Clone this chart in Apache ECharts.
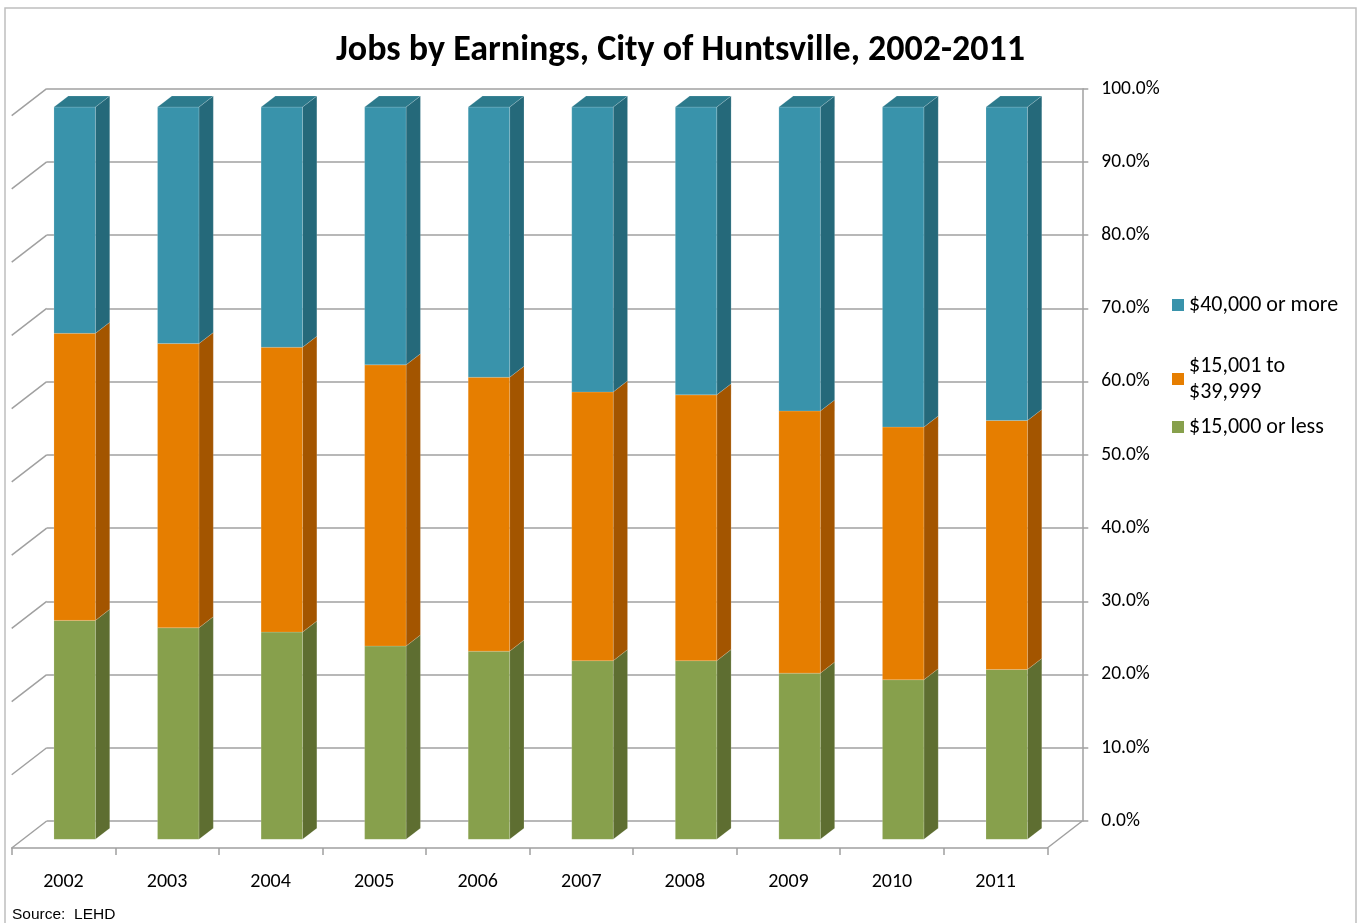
<!DOCTYPE html>
<html>
<head>
<meta charset="utf-8">
<script src="https://cdn.jsdelivr.net/npm/echarts@6/dist/echarts.min.js"></script>
<style>
html,body{margin:0;padding:0;background:#fff;}
#chart{width:1361px;height:923px;}
</style>
</head>
<body>
<div id="chart"></div>
<script>
// ---- data ----
const years = ['2002','2003','2004','2005','2006','2007','2008','2009','2010','2011'];
const lowEarn  = [29.9, 28.9, 28.3, 26.4, 25.7, 24.4, 24.4, 22.7, 21.8, 23.2];   // $15,000 or less
const midEarn  = [39.2, 38.8, 38.9, 38.4, 37.4, 36.7, 36.3, 35.8, 34.5, 34.0];   // $15,001 to $39,999
const highEarn = [30.9, 32.3, 32.8, 35.2, 36.9, 38.9, 39.3, 41.5, 43.7, 42.8];   // $40,000 or more
const yTicks = [0, 10, 20, 30, 40, 50, 60, 70, 80, 90, 100];
const seriesNames = ['$15,000 or less', '$15,001 to $39,999', '$40,000 or more'];

// ---- styling / geometry ----
const FONT = 'Carlito, Lato, sans-serif';
const DEPTH_X = 35, DEPTH_Y = 27;       // wall depth (oblique projection)
const FRONT = 0.68, BACK = 0.27;        // bar front/back planes as fraction of depth from back wall
const BAR_RATIO = 0.40;
const palettes = [
  {front: '#87A04C', side: '#5E6E31', top: '#6F8A3C'},
  {front: '#E67E00', side: '#A35500', top: '#C06A00'},
  {front: '#3993AB', side: '#25697A', top: '#2C7A8C'}
];
const GRID_COLOR = '#A0A0A0';

const valueSets = [lowEarn, midEarn, highEarn];
const totals = years.map((_, i) => lowEarn[i] + midEarn[i] + highEarn[i]);

function buildData(k) {
  return years.map((_, i) => {
    let base = 0;
    for (let j = 0; j < k; j++) base += valueSets[j][i] / totals[i] * 100;
    const top = base + valueSets[k][i] / totals[i] * 100;
    return [i, base, top, k === valueSets.length - 1 ? 1 : 0];
  });
}

function barRenderer(pal) {
  return function (params, api) {
    const i = api.value(0), b = api.value(1), t = api.value(2), isTop = api.value(3);
    const pb = api.coord([i, b]), pt = api.coord([i, t]);
    const w = api.size([1, 0])[0] * BAR_RATIO;
    const fx = -DEPTH_X * FRONT, fy = DEPTH_Y * FRONT;
    const dX = DEPTH_X * (FRONT - BACK), dY = -DEPTH_Y * (FRONT - BACK);
    const xl = pb[0] - w / 2 + fx, xr = pb[0] + w / 2 + fx;
    const yb = pb[1] + fy, yt = pt[1] + fy;
    const edge = {stroke: 'rgba(255,255,255,0.25)', lineWidth: 0.6};
    const children = [
      {type: 'polygon', shape: {points: [[xr, yt], [xr + dX, yt + dY], [xr + dX, yb + dY], [xr, yb]]},
       style: Object.assign({fill: pal.side}, edge)},
      {type: 'rect', shape: {x: xl, y: yt, width: w, height: yb - yt},
       style: Object.assign({fill: pal.front}, edge)}
    ];
    if (isTop) {
      children.push({type: 'polygon', shape: {points: [[xl, yt], [xl + dX, yt + dY], [xr + dX, yt + dY], [xr, yt]]},
        style: Object.assign({fill: pal.top}, edge)});
    }
    return {type: 'group', children: children};
  };
}

const chart = echarts.init(document.getElementById('chart'), null, {renderer: 'canvas'});

const barSeries = [0, 1, 2].map(k => ({
  type: 'custom',
  name: seriesNames[k],
  xAxisIndex: 0, yAxisIndex: 0,
  itemStyle: {color: palettes[k].front},
  renderItem: barRenderer(palettes[k]),
  encode: {x: 0, y: [1, 2]},
  data: buildData(k),
  z: 3
}));

const legendText = {fontFamily: FONT, fontSize: 22, color: '#000', lineHeight: 26};

const option = {
  animation: false,
  textStyle: {fontFamily: FONT},
  title: [
    {text: 'Jobs by Earnings, City of Huntsville, 2002-2011', left: 'center', top: 28,
     textStyle: {fontFamily: FONT, fontWeight: 'bold', fontSize: 36, color: '#000'}},
    {text: 'Source:  LEHD', left: 7, top: 902,
     textStyle: {fontFamily: 'Liberation Sans, Arial, sans-serif', fontWeight: 'normal', fontSize: 15.5, color: '#000'}}
  ],
  legend: [
    {data: [seriesNames[2]], orient: 'vertical', left: 1172, top: 292, padding: 0, icon: 'rect',
     itemWidth: 12, itemHeight: 12, textStyle: legendText},
    {data: [seriesNames[1]], orient: 'vertical', left: 1172, top: 353, padding: 0, icon: 'rect',
     itemWidth: 12, itemHeight: 12,
     formatter: n => n.replace(' $', '\n$'), textStyle: legendText},
    {data: [seriesNames[0]], orient: 'vertical', left: 1172, top: 414, padding: 0, icon: 'rect',
     itemWidth: 12, itemHeight: 12, textStyle: legendText}
  ],
  graphic: [
    {type: 'rect', shape: {x: 5, y: 8, width: 1351, height: 940}, silent: true, z: -10,
     style: {fill: 'none', stroke: '#BFBFBF', lineWidth: 1.5}}
  ],
  grid: [
    {left: 46.7, top: 88.7, width: 1035.6, height: 732.3},
    {left: 46.7 - DEPTH_X, top: 88.7 + DEPTH_Y, width: 1035.6, height: 732.3}
  ],
  xAxis: [
    {type: 'category', gridIndex: 0, data: years, axisLine: {show: false}, axisTick: {show: false},
     axisLabel: {show: false}, splitLine: {show: false}},
    {type: 'category', gridIndex: 1, data: years,
     axisLine: {show: true, lineStyle: {color: GRID_COLOR, width: 1.5}},
     axisTick: {show: true, length: 7, lineStyle: {color: GRID_COLOR, width: 1.5}},
     axisLabel: {margin: 24, fontFamily: FONT, fontSize: 20, color: '#000'}}
  ],
  yAxis: [
    {type: 'value', gridIndex: 0, position: 'right', min: 0, max: 100, interval: 10,
     axisLine: {show: true, lineStyle: {color: GRID_COLOR, width: 1.5}},
     axisTick: {show: true, length: 6, lineStyle: {color: GRID_COLOR, width: 1.5}},
     axisLabel: {margin: 19, fontFamily: FONT, fontSize: 19.5, color: '#000', padding: [4, 0, 0, 0],
                 formatter: v => v.toFixed(1) + '%'},
     splitLine: {show: true, lineStyle: {color: GRID_COLOR, width: 1.5}}},
    {type: 'value', gridIndex: 1, min: 0, max: 100, show: false}
  ],
  series: [
    {
      type: 'custom', name: 'walls', xAxisIndex: 0, yAxisIndex: 0, silent: true, z: 1,
      data: yTicks.map(v => [0, v]),
      encode: {x: 0, y: 1},
      renderItem: function (params, api) {
        const c = api.coord([api.value(0), api.value(1)]);
        const half = api.size([1, 0])[0] / 2;
        const x0 = c[0] - half;
        return {type: 'line', shape: {x1: x0, y1: c[1], x2: x0 - DEPTH_X, y2: c[1] + DEPTH_Y},
                style: {stroke: GRID_COLOR, lineWidth: 1.5}};
      }
    },
    {
      type: 'custom', name: 'floorRight', xAxisIndex: 0, yAxisIndex: 0, silent: true, z: 1,
      data: [[years.length - 1, yTicks[0]]],
      encode: {x: 0, y: 1},
      renderItem: function (params, api) {
        const c = api.coord([api.value(0), api.value(1)]);
        const half = api.size([1, 0])[0] / 2;
        const x0 = c[0] + half;
        return {type: 'line', shape: {x1: x0, y1: c[1], x2: x0 - DEPTH_X, y2: c[1] + DEPTH_Y},
                style: {stroke: GRID_COLOR, lineWidth: 1.5}};
      }
    }
  ].concat(barSeries)
};
chart.setOption(option);
</script>
</body>
</html>
